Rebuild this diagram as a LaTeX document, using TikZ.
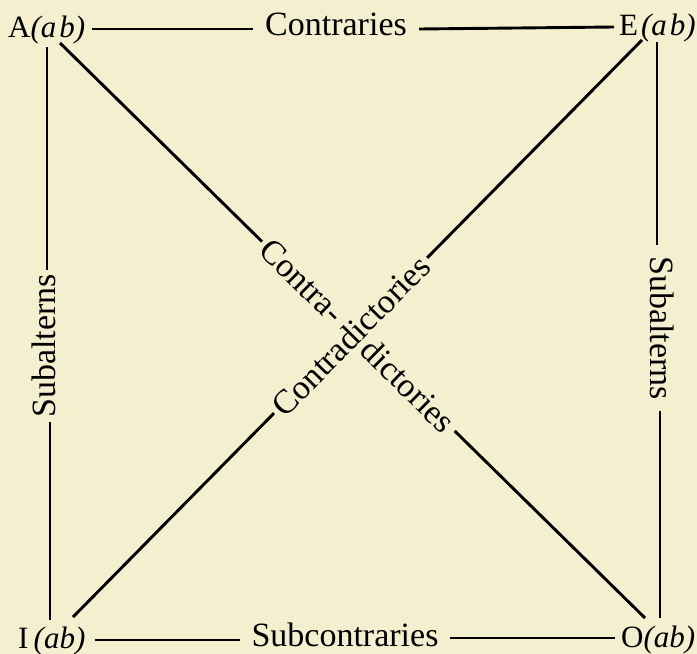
\documentclass[tikz,border=0pt]{standalone}
\usepackage{fontspec}
\setmainfont{Liberation Serif}
\definecolor{bg}{RGB}{243,239,207}
\begin{document}
\begin{tikzpicture}[x=1pt,y=-1pt,
  lab/.style={font=\fontsize{34}{40}\selectfont, inner sep=0pt, text=black},
  corner/.style={font=\fontsize{31}{36}\selectfont, inner sep=0pt, text=black},
  ln/.style={line width=2.9pt, black},
]
\fill[bg] (0,0) rectangle (697,654);
\useasboundingbox (0,0) rectangle (697,654);

% corner labels
\node[corner, anchor=base west] (A) at (8,37) {A\textit{(a\kern3pt b)}};
\node[corner, anchor=base west] (E) at (619,35) {E\kern3pt\textit{(a\kern3pt b)}};
\node[corner, anchor=base west] (I) at (18,648) {I\,\textit{(ab)}};
\node[corner, anchor=base west] (O) at (621,647) {O\textit{(ab)}};

% side labels
\node[lab, anchor=base, inner xsep=12pt] (contr) at (336,35) {Contraries};
\node[lab, anchor=base, inner xsep=11pt] (subc) at (345,646) {Subcontraries};
\node[lab, rotate=90, inner xsep=4pt] (subL) at (44,346) {Subalterns};
\node[lab, rotate=-90, inner xsep=11pt] (subR) at (662,328) {Subalterns};

% line end points
\coordinate (Atop) at (92,29);
\coordinate (Etop) at (614,27);
\coordinate (Ibot) at (95,640);
\coordinate (Obot) at (615,638);
\coordinate (Aleft) at (47,47);
\coordinate (Ileft) at (50,620);
\coordinate (Eright) at (657,42);
\coordinate (Oright) at (660,618);
\coordinate (Adiag) at (60,43);
\coordinate (Odiag) at (645,618);
\coordinate (Idiag) at (73,617);
\coordinate (Ediag) at (642,40);

% diagonal labels
\path (Adiag) -- (Odiag)
  node[lab, sloped, pos=0.4137, inner xsep=4pt] (contra) {Contra-}
  node[lab, sloped, pos=0.5957, inner xsep=6pt] (dict) {dictories};
\path (Idiag) -- (Ediag)
  node[lab, sloped, pos=0.4879, inner xsep=4pt] (cd) {Contradictories};

% connectors
\draw[ln] (Atop) -- (Atop -| contr.west);
\draw[ln] (Atop -| contr.east) -- (Etop);
\draw[ln] (Ibot) -- (Ibot -| subc.west);
\draw[ln] (Obot -| subc.east) -- (Obot);
\draw[ln] (Aleft) -- (Aleft |- subL.east);
\draw[ln] (Ileft |- subL.west) -- (Ileft);
\draw[ln] (Eright) -- (Eright |- subR.west);
\draw[ln] (Oright |- subR.east) -- (Oright);
\draw[ln] (Adiag) -- (contra.west);
\draw[ln] (dict.east) -- (Odiag);
\draw[ln] (Idiag) -- (cd.west);
\draw[ln] (cd.east) -- (Ediag);
\end{tikzpicture}
\end{document}
